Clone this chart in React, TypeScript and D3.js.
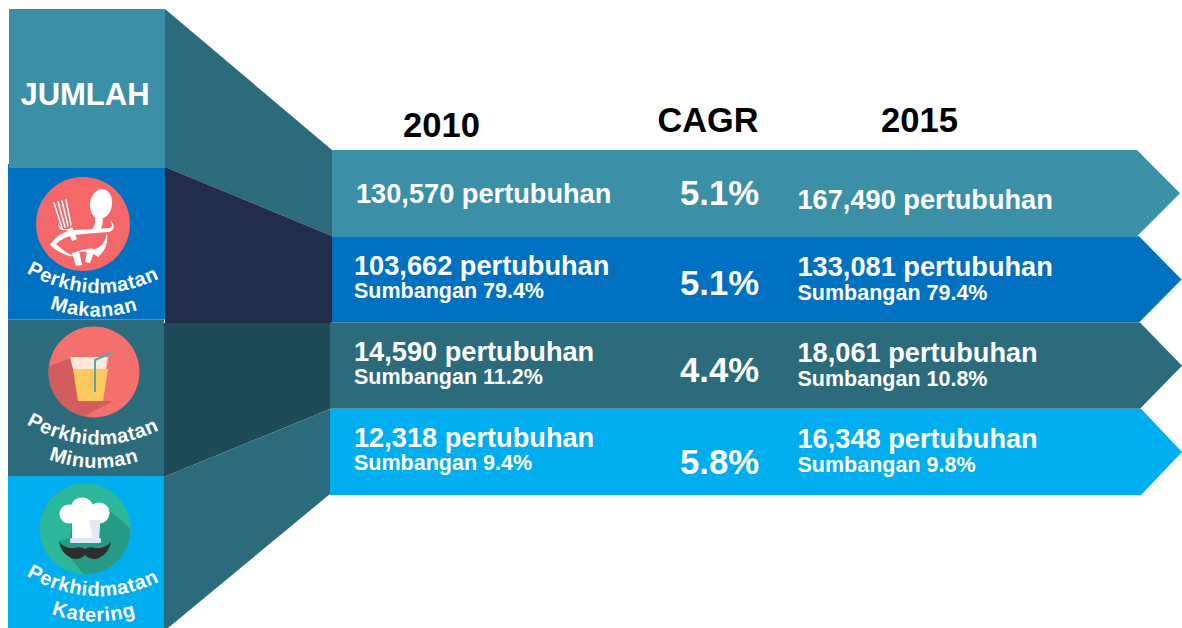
import React from "react";
import * as d3 from "d3";

const rows = ["Jumlah", "Makanan", "Minuman", "Katering"];
const rowColors = ["#3b90a8", "#0070c0", "#2b6b7b", "#00adef"];
const funnelColors = ["#2b6b7b", "#232d4b", "#1f4a57", "#2b6b7b"];
const values2010 = ["130,570 pertubuhan", "103,662 pertubuhan", "14,590 pertubuhan", "12,318 pertubuhan"];
const share2010 = ["", "Sumbangan 79.4%", "Sumbangan 11.2%", "Sumbangan 9.4%"];
const cagr = ["5.1%", "5.1%", "4.4%", "5.8%"];
const values2015 = ["167,490 pertubuhan", "133,081 pertubuhan", "18,061 pertubuhan", "16,348 pertubuhan"];
const share2015 = ["", "Sumbangan 79.4%", "Sumbangan 10.8%", "Sumbangan 9.8%"];
const services = ["Makanan", "Minuman", "Katering"];
const font = "'Liberation Sans', Arial, sans-serif";

// vertical scale shared by the arrows
const rowY = d3.scaleBand<string>().domain(rows).range([150, 495]);
// vertical scale of the left column
const panelEdges = [9, 168, 319.5, 476, 628];
const funnelLeft = [9, 167, 323, 477, 628];
const funnelRight = [150, 236, 323, 409, 494];
const arrowX0 = [332, 332, 330, 330];
const arrowShoulder = [1137, 1139, 1140, 1141];
const arrowTip = [1180, 1181.5, 1182, 1182];
const panelX0 = [9, 8, 8, 8];
const panelX1 = [165, 165, 164, 164];

const line = d3.line<[number, number]>();

function FoodIcon() {
  return (
    <g transform="translate(83,224)">
      <circle r="47" fill="#f4686a" />
      <path d="M-29,-21 L-21,4 M-25,-22 L-18,3 M-21,-23 L-15,2 M-17,-24 L-12,1" stroke="#fff" strokeWidth="1.5" fill="none" strokeLinecap="round" />
      <path d="M-25,-1 Q-20,9 -11,3 L-6,15 L-11,17 L-16,6 Q-24,8 -25,-1Z" fill="#fff" />
      <ellipse cx="18" cy="-20" rx="11" ry="15" transform="rotate(8 18 -20)" fill="#fff" />
      <path d="M12,-7 Q13,3 7,7 L17,6 Q20,2 20,-5Z" fill="#fff" />
      <path d="M-33,21 Q-24,7 -8,6 Q14,5 27,4 Q31,2 27,-4 Q35,4 26,8 Q8,9 -8,11 Q-20,13 -27,20 Q-20,27 -12,31 Q2,23 12,25 Q22,22 24,9 Q26,24 15,33 Q6,26 -4,28 Q-8,33 -14,32 Q-26,28 -33,21Z" fill="#fff" />
      <path d="M-11,29 L-4,27 L-1,41 L-7,42Z M4,27 L11,28 L7,39 L2,38Z" fill="#fff" />
    </g>
  );
}

function DrinkIcon() {
  return (
    <g transform="translate(94,372)">
      <clipPath id="drinkClip"><circle r="45.5" /></clipPath>
      <circle r="45.5" fill="#f4706e" />
      <path d="M-46,-5 L-21,-15 L-8,29 L19,29 L-30,55 L-60,40Z" fill="#d15d5e" clipPath="url(#drinkClip)" />
      <path d="M-24,-15 L14,-15 L12,-3 L-21,-3Z" fill="#fde8dc" />
      <path d="M-21,-3 L14,-3 L9,29 L-16,29Z" fill="#fdc95c" />
      <path d="M1,20 L1,-12 L19,-20" fill="none" stroke="#5aa6a0" strokeWidth="2" />
    </g>
  );
}

function ChefIcon() {
  return (
    <g transform="translate(85,529)">
      <clipPath id="chefClip"><circle r="45.5" /></clipPath>
      <circle r="45.5" fill="#2bb89a" />
      <path d="M23,-20 L46,0 L46,30 L2,50 L-27,12 L-15,9 L-13,-6Z" fill="#259a84" clipPath="url(#chefClip)" />
      <circle cx="-16" cy="-15" r="9.5" fill="#fff" />
      <circle cx="-3" cy="-20" r="11.5" fill="#fff" />
      <circle cx="14" cy="-16" r="10.5" fill="#fff" />
      <circle cx="7" cy="-13" r="8" fill="#fff" />
      <path d="M-13,-10 L15,-10 L14,10 L-13,10Z" fill="#fff" />
      <path d="M4,-9 L15,-9 L14,10 L8,10Z" fill="#e3e8f2" />
      <rect x="-15" y="9" width="31" height="5" rx="1.5" fill="#dfe5f1" />
      <path d="M-26,13 Q-24,24 -14,29 Q-6,32 0,26 Q6,32 14,29 Q24,24 26,13 Q20,20 10,19 Q4,17 0,20 Q-4,17 -10,19 Q-20,20 -26,13Z" fill="#2e2e2e" />
    </g>
  );
}

const icons = [<FoodIcon key="a" />, <DrinkIcon key="b" />, <ChefIcon key="c" />];

export default function App() {
  return (
    <svg width={1182} height={628} viewBox="0 0 1182 628"
      style={{ position: "absolute", left: 0, top: 0, background: "#fff", fontFamily: font, fontWeight: 700 }}>
      {rows.map((r, i) => (
        <path key={"f" + r} fill={funnelColors[i]}
          d={line([
            [panelX1[i], funnelLeft[i]],
            [arrowX0[i], funnelRight[i]],
            [arrowX0[i], funnelRight[i + 1]],
            [panelX1[i] + (i === 3 ? 4 : 0), funnelLeft[i + 1]],
            [panelX1[i], funnelLeft[i + 1]],
          ]) + "Z"} />
      ))}
      {rows.map((r, i) => (
        <rect key={"p" + r} x={panelX0[i]} y={panelEdges[i]} width={panelX1[i] - panelX0[i]}
          height={panelEdges[i + 1] - panelEdges[i]} fill={rowColors[i]} />
      ))}
      <rect x={8} y={164} width={1} height={4} fill={rowColors[1]} />
      {rows.map((r, i) => {
        const y0 = rowY(r)!;
        const h = rowY.bandwidth();
        return (
          <path key={"a" + r} fill={rowColors[i]}
            d={line([
              [arrowX0[i], y0],
              [arrowShoulder[i], y0],
              [arrowTip[i], y0 + h / 2],
              [arrowShoulder[i], y0 + h],
              [arrowX0[i], y0 + h],
            ]) + "Z"} />
        );
      })}

      <text x={85} y={105} fontSize={31} fill="#fff" textAnchor="middle">JUMLAH</text>
      <g fontSize={34.6} fill="#000" textAnchor="middle">
        <text x={441.5} y={137}>2010</text>
        <text x={708} y={132} fontSize={34.3}>CAGR</text>
        <text x={919.5} y={132}>2015</text>
      </g>

      {rows.map((r, i) => {
        const y0 = rowY(r)!;
        const first = i === 0;
        const low = i >= 2 ? 1 : 0;
        return (
          <g key={"t" + r} fill="#fff">
            <text x={first ? 356 : 354} y={y0 + (first ? 53 : 39) - low} fontSize={27.2}>{values2010[i]}</text>
            <text x={354} y={y0 + 62 - low} fontSize={21.5}>{share2010[i]}</text>
            <text x={719.5} y={y0 + [55, 59, 59, 65][i]} fontSize={34.7} textAnchor="middle">{cagr[i]}</text>
            <text x={797.5} y={y0 + (first ? 59 : 40) - low} fontSize={27.2}>{values2015[i]}</text>
            <text x={797.5} y={y0 + 64 - low} fontSize={21.5}>{share2015[i]}</text>
          </g>
        );
      })}

      {services.map((s, i) => {
        const top = panelEdges[i + 1];
        const base = top + [1, 1, -4][i];
        const low = top + [3, 3, 0][i];
        const id1 = "arcA" + i;
        const id2 = "arcB" + i;
        return (
          <g key={s} fill="#fff">
            {icons[i]}
            <path id={id1} fill="none" d={`M20,${base + 100} Q93,${base + 145} 166,${base + 106}`} />
            <path id={id2} fill="none" d={`M44,${low + 135} Q93,${low + 155} 144,${low + 137}`} />
            <text fontSize={20} letterSpacing={0.6}>
              <textPath href={"#" + id1} startOffset="50%" textAnchor="middle">Perkhidmatan</textPath>
            </text>
            <text fontSize={20} letterSpacing={0.7}>
              <textPath href={"#" + id2} startOffset="50%" textAnchor="middle">{s}</textPath>
            </text>
          </g>
        );
      })}
    </svg>
  );
}
